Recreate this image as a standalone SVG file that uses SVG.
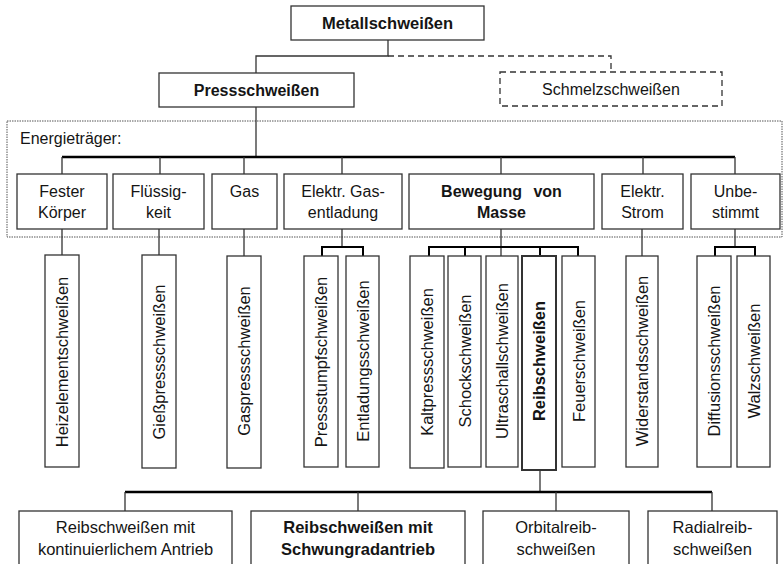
<svg xmlns="http://www.w3.org/2000/svg" width="783" height="564" viewBox="0 0 783 564">
<style>
text{font-family:"Liberation Sans",Arial,sans-serif;font-size:16px;fill:#151515}
.b{font-weight:bold}
.c{text-anchor:middle}
.v{font-size:16.5px}
.l{font-size:16.5px}
.box{fill:#fff;stroke:#333;stroke-width:1.3}
.dbox{fill:#fff;stroke:#333;stroke-width:1.3;stroke-dasharray:6 4}
.thin{stroke:#333;stroke-width:1.3;fill:none}
.thick{stroke:#000;stroke-width:2.6;fill:none}
.br{stroke:#000;stroke-width:2;fill:none}
.dash{stroke:#333;stroke-width:1.3;fill:none;stroke-dasharray:6 4}
.dot{fill:none;stroke:#555;stroke-width:1;stroke-dasharray:1.5 1}
</style>
<rect width="783" height="564" fill="#fff"/>
<g id="energy-frame">
<rect class="dot" x="7" y="121" width="775" height="116"/>
<text x="20" y="144">Energieträger:</text>
</g>
<g id="connectors">
<path class="thin" d="M388 40V56H256V73"/>
<path class="dash" d="M388 56H611V72"/>
<path class="thin" d="M256 107V157"/>
<path class="thick" d="M62 157H735"/>
<path class="thin" d="M62 157V174M160 157V174M244 157V174M342 157V174M501 157V174M643 157V174M735 157V174"/>
<path class="thin" d="M62 229V255M159 229V255M244 229V256M342 229V247M501 229V256M642 229V256M735 229V247"/>
<path class="br" d="M322 256V247H363V256"/>
<path class="br" d="M429 256V247H578V256M465 247V256M540 247V256"/>
<path class="br" d="M715 256V247H755V256"/>
<path class="thin" d="M540 470V492"/>
<path class="thick" d="M125 492H712"/>
<path class="thin" d="M125 492V511M358 492V511M556 492V511M712 492V511"/>
</g>
<g id="metallschweissen"><rect class="box" x="291" y="6" width="193" height="34"/><text class="c b" x="387.5" y="29" style="font-size:16.5px">Metallschweißen</text></g>
<g id="pressschweissen"><rect class="box" x="159" y="73" width="195" height="34"/><text class="c b" x="256.5" y="96">Pressschweißen</text></g>
<g id="schmelzschweissen"><rect class="dbox" x="500" y="72" width="222" height="34"/><text class="c" x="611" y="95">Schmelzschweißen</text></g>
<g id="fester-koerper"><rect class="box" x="17" y="174" width="90" height="55"/><text class="c" x="62" y="197">Fester</text><text class="c" x="62" y="218">Körper</text></g>
<g id="fluessigkeit"><rect class="box" x="113" y="174" width="91" height="55"/><text class="c" x="158.5" y="197">Flüssig-</text><text class="c" x="158.5" y="218">keit</text></g>
<g id="gas"><rect class="box" x="212" y="174" width="65" height="55"/><text class="c" x="244.5" y="197">Gas</text></g>
<g id="gasentladung"><rect class="box" x="284" y="174" width="118" height="55"/><text class="c" x="343" y="197">Elektr. Gas-</text><text class="c" x="343" y="218">entladung</text></g>
<g id="bewegung"><rect class="box" x="409" y="174" width="185" height="55"/><text class="c b" x="501.5" y="197" word-spacing="7">Bewegung von</text><text class="c b" x="501.5" y="218">Masse</text></g>
<g id="elektr-strom"><rect class="box" x="602" y="174" width="81" height="55"/><text class="c" x="642.5" y="197">Elektr.</text><text class="c" x="642.5" y="218">Strom</text></g>
<g id="unbestimmt"><rect class="box" x="691" y="174" width="89" height="55"/><text class="c" x="735.5" y="197">Unbe-</text><text class="c" x="735.5" y="218">stimmt</text></g>
<g id="heizelement"><rect class="box" x="45" y="255" width="34" height="212"/><text class="c v" transform="translate(68 362) rotate(-90)">Heizelementschweißen</text></g>
<g id="giesspress"><rect class="box" x="142" y="255" width="34" height="213"/><text class="c v" transform="translate(165 362) rotate(-90)">Gießpressschweißen</text></g>
<g id="gaspress"><rect class="box" x="227" y="256" width="34" height="212"/><text class="c v" transform="translate(250 361) rotate(-90)">Gaspressschweißen</text></g>
<g id="pressstumpf"><rect class="box" x="304" y="256" width="34" height="211"/><text class="c v" transform="translate(327 362) rotate(-90)">Pressstumpfschweißen</text></g>
<g id="entladung"><rect class="box" x="346" y="256" width="33" height="211"/><text class="c v" transform="translate(368.5 361) rotate(-90)">Entladungsschweißen</text></g>
<g id="kaltpress"><rect class="box" x="410" y="256" width="34" height="212"/><text class="c v" transform="translate(433 362) rotate(-90)">Kaltpressschweißen</text></g>
<g id="schock"><rect class="box" x="448" y="256" width="33" height="211"/><text class="c v" transform="translate(470.5 361) rotate(-90)">Schockschweißen</text></g>
<g id="ultraschall"><rect class="box" x="486" y="256" width="32" height="211"/><text class="c v" transform="translate(507.5 361) rotate(-90)">Ultraschallschweißen</text></g>
<g id="reib"><rect class="box" x="522" y="256" width="34" height="214" style="stroke-width:2"/><text class="c v b" transform="translate(545 361) rotate(-90)">Reibschweißen</text></g>
<g id="feuer"><rect class="box" x="562" y="256" width="33" height="211"/><text class="c v" transform="translate(584.5 361) rotate(-90)">Feuerschweißen</text></g>
<g id="widerstand"><rect class="box" x="626" y="256" width="32" height="211"/><text class="c v" transform="translate(648 361) rotate(-90)">Widerstandsschweißen</text></g>
<g id="diffusion"><rect class="box" x="697" y="256" width="34" height="211"/><text class="c v" transform="translate(720 361) rotate(-90)">Diffusionsschweißen</text></g>
<g id="walz"><rect class="box" x="737" y="256" width="33" height="211"/><text class="c v" transform="translate(759.5 361) rotate(-90)">Walzschweißen</text></g>
<g id="kontinuierlich"><rect class="box" x="19" y="511" width="213" height="60"/><text class="c l" x="125.5" y="533">Reibschweißen mit</text><text class="c l" x="125.5" y="555">kontinuierlichem Antrieb</text></g>
<g id="schwungrad"><rect class="box" x="251" y="511" width="214" height="60"/><text class="c l b" x="358" y="533">Reibschweißen mit</text><text class="c l b" x="358" y="555">Schwungradantrieb</text></g>
<g id="orbital"><rect class="box" x="483" y="511" width="146" height="60"/><text class="c l" x="556" y="533">Orbitalreib-</text><text class="c l" x="556" y="555">schweißen</text></g>
<g id="radial"><rect class="box" x="648" y="511" width="129" height="60"/><text class="c l" x="712.5" y="533">Radialreib-</text><text class="c l" x="712.5" y="555">schweißen</text></g>
</svg>
